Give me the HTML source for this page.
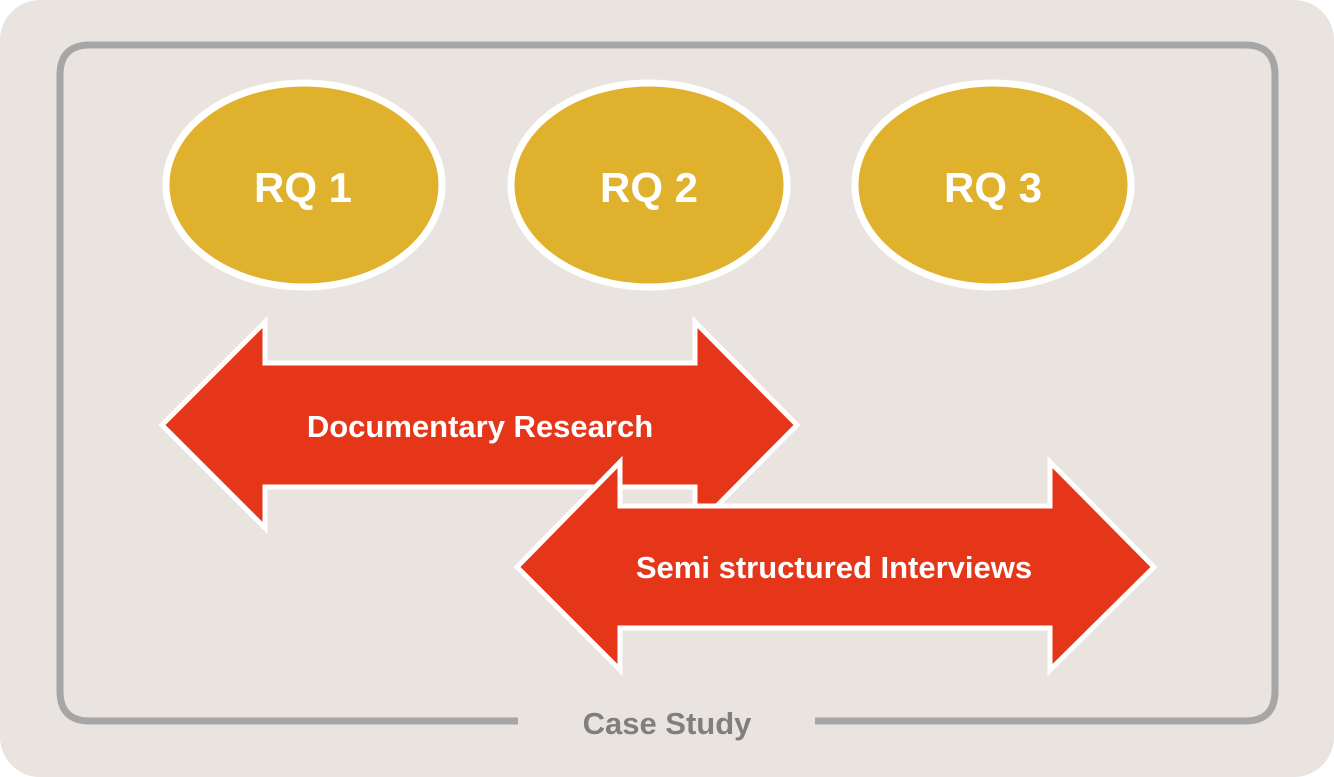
<!DOCTYPE html>
<html><head><meta charset="utf-8"><style>
html,body{margin:0;padding:0;background:#fff;}
svg{display:block}
</style></head><body>
<svg width="1334" height="777" viewBox="0 0 1334 777" xmlns="http://www.w3.org/2000/svg">
<rect x="0" y="0" width="1334" height="777" rx="40" fill="#E9E4E0"/>
<path d="M518 721 H90 Q60 721 60 691 V75 Q60 45 90 45 H1245 Q1275 45 1275 75 V691 Q1275 721 1245 721 H815" fill="none" stroke="#A6A6A6" stroke-width="7"/>
<text x="667" y="734" text-anchor="middle" font-family="Liberation Sans, sans-serif" font-weight="bold" font-size="31" fill="#7F7F7F">Case Study</text>
<g fill="#E0B12D" stroke="#fff" stroke-width="7">
<ellipse cx="304" cy="185" rx="138" ry="102"/>
<ellipse cx="649" cy="185" rx="138" ry="102"/>
<ellipse cx="993" cy="185" rx="138" ry="102"/>
</g>
<g font-family="Liberation Sans, sans-serif" font-weight="bold" font-size="42" fill="#fff" text-anchor="middle">
<text x="303" y="202">RQ 1</text>
<text x="649" y="202">RQ 2</text>
<text x="993" y="202">RQ 3</text>
</g>
<g fill="#E5361A" stroke="#fff" stroke-width="5" stroke-linejoin="miter">
<polygon points="162,425 265,322 265,363 695,363 695,322 797,425 695,528 695,487 265,487 265,528"/>
<polygon points="517,567 620,462 620,506 1050,506 1050,462 1154,567 1050,670 1050,628 620,628 620,670"/>
</g>
<g font-family="Liberation Sans, sans-serif" font-weight="bold" font-size="31" fill="#fff" text-anchor="middle">
<text x="480" y="437">Documentary Research</text>
<text x="834" y="578">Semi structured Interviews</text>
</g>
</svg>
</body></html>
